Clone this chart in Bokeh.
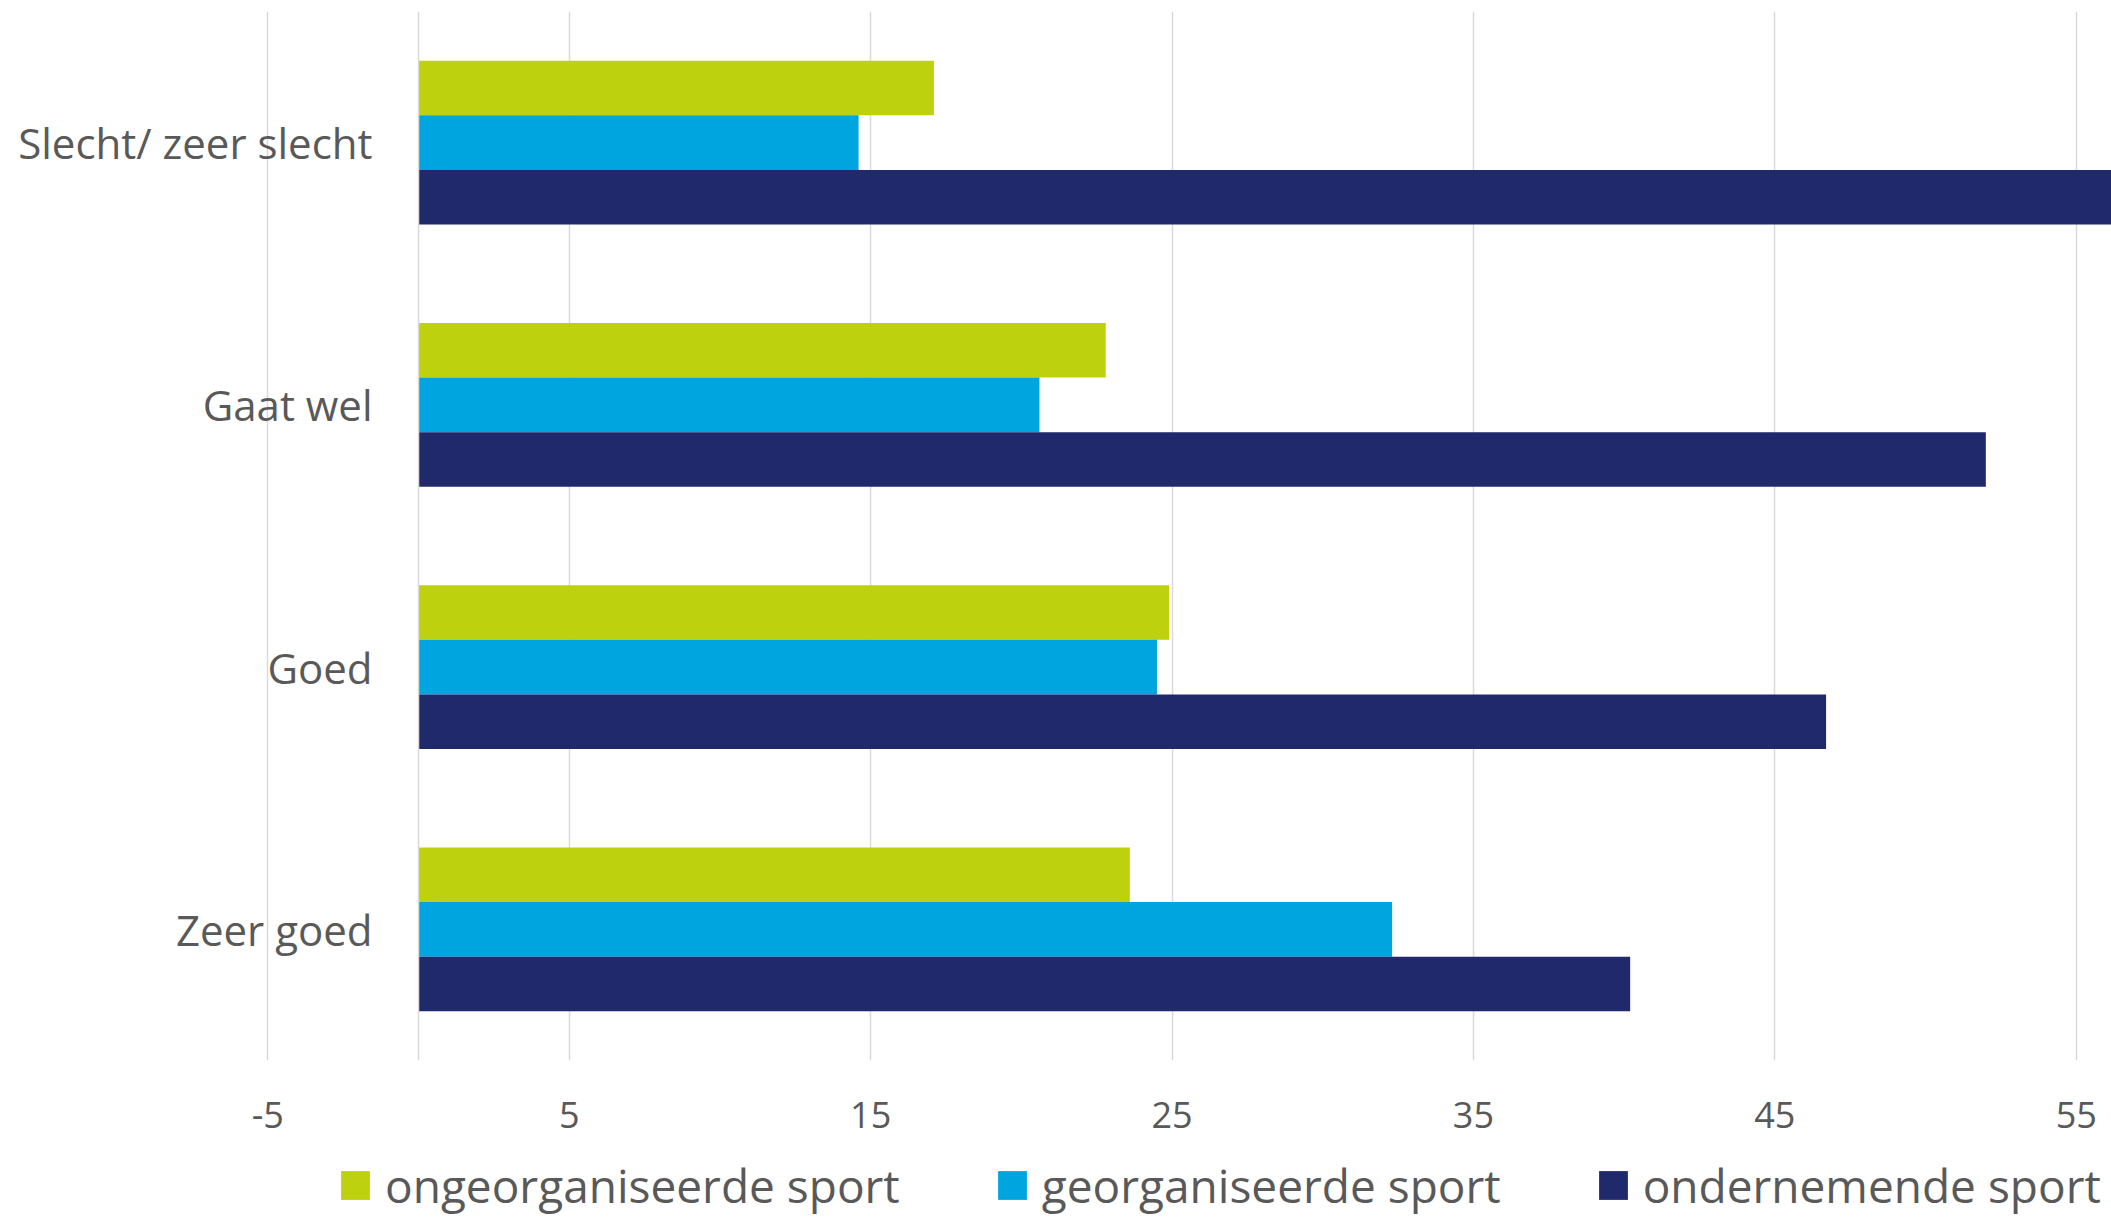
from bokeh.plotting import figure
from bokeh.layouts import column
from bokeh.models import FactorRange, Range1d, FixedTicker, Span, Legend, LegendItem, ColumnDataSource
from bokeh.transform import dodge
from bokeh.core.properties import value
from bokeh.embed import file_html
from bokeh.resources import INLINE

categories = ["Slecht/ zeer slecht", "Gaat wel", "Goed", "Zeer goed"]
ongeorganiseerde = [17.1, 22.8, 24.9, 23.6]
georganiseerde = [14.6, 20.6, 24.5, 32.3]
ondernemende = [57.0, 52.0, 46.7, 40.2]
series_names = ["ongeorganiseerde sport", "georganiseerde sport", "ondernemende sport"]
x_ticks = [-5, 5, 15, 25, 35, 45, 55]
colors = ["#BDD10E", "#00A5DF", "#20296C"]

FONT = "Open Sans"
TEXT_COLOR = "#595959"
GRID_COLOR = "#D9D9D9"
W = 2111

src = ColumnDataSource(dict(cat=categories, ong=ongeorganiseerde, geo=georganiseerde,
                            ond=ondernemende, zero=[0] * len(categories)))

p = figure(width=W, height=1153,
           y_range=FactorRange(factors=categories[::-1], range_padding=0),
           x_range=Range1d(-13.87, 56.17),
           output_backend="svg", toolbar_location=None,
           min_border_top=11, min_border_bottom=93, min_border_left=0, min_border_right=0)
p.outline_line_color = None
p.background_fill_color = "white"
p.border_fill_color = "white"

bh = 0.208
cols = ["ong", "geo", "ond"]
renderers = []
for col, off, c in zip(cols, [bh, 0, -bh], colors):
    r = p.hbar(y=dodge("cat", off, range=p.y_range), left=0, right=col, height=bh,
               source=src, fill_color=c, line_color=None)
    renderers.append(r)

p.text(x="zero", y="cat", text="cat", source=src, x_offset=-46,
       text_align="right", text_baseline="middle",
       text_font=value(FONT), text_font_size="42px", text_color=TEXT_COLOR)

p.yaxis.visible = False
p.ygrid.grid_line_color = None
p.xaxis.ticker = FixedTicker(ticks=x_ticks)
p.xaxis.major_label_overrides = {t: str(t) for t in x_ticks}
p.xaxis.axis_line_color = None
p.xaxis.major_tick_line_color = None
p.xaxis.minor_tick_line_color = None
p.xaxis.major_label_standoff = 35
p.xaxis.major_label_text_font = FONT
p.xaxis.major_label_text_font_size = "36px"
p.xaxis.major_label_text_color = TEXT_COLOR
p.xgrid.grid_line_color = GRID_COLOR
p.xgrid.grid_line_width = 1.5

p.add_layout(Span(location=0, dimension="height", line_color=GRID_COLOR, line_width=1.5))

# legend strip below the chart (its renderers are hidden; they only supply legend swatches)
pl = figure(width=W, height=64, output_backend="svg", toolbar_location=None,
            x_range=Range1d(0, 1), y_range=Range1d(0, 1),
            x_axis_location=None, y_axis_location=None,
            min_border=0, min_border_left=0, min_border_right=0, min_border_top=0, min_border_bottom=0)
pl.outline_line_color = None
pl.grid.visible = False
leg_renderers = [pl.hbar(y="zero", left="zero", right=col, height=0.5, source=src,
                         fill_color=c, line_color=None, visible=False)
                 for col, c in zip(cols, colors)]
legend = Legend(items=[LegendItem(label=n, renderers=[r]) for n, r in zip(series_names, leg_renderers)],
                orientation="horizontal", location="center_left", margin=337,
                glyph_width=36, glyph_height=36, label_standoff=12, spacing=94,
                label_text_font=FONT, label_text_font_size="46px", label_text_color=TEXT_COLOR,
                border_line_alpha=0, background_fill_alpha=0, padding=0)
pl.add_layout(legend)

layout = column(p, pl, spacing=0)
open("out.html", "w").write(file_html(layout, INLINE))
